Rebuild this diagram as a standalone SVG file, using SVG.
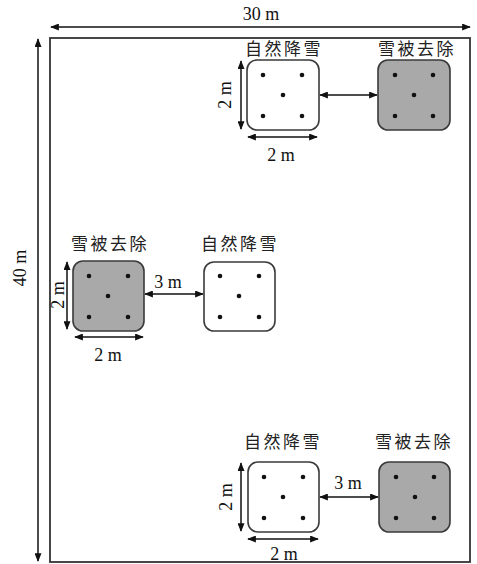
<svg xmlns="http://www.w3.org/2000/svg" width="477" height="564" viewBox="0 0 477 564">
<style>
.frame{fill:none;stroke:#333;stroke-width:1.8}
.box{stroke:#3a3a3a;stroke-width:1.6}
.w{fill:#fff}
.g{fill:#a9a9a9}
.dot{fill:#111}
.dim{stroke:#111;stroke-width:1.5;fill:none;marker-start:url(#a);marker-end:url(#a)}
.num{font-family:"Liberation Serif","Times New Roman",serif;font-size:18px;fill:#111;text-anchor:middle}
.cn{font-family:"Noto Sans CJK SC","Noto Sans CJK JP",sans-serif;font-size:17px;fill:#222;text-anchor:middle;letter-spacing:2.5px}
</style>
<defs>
<marker id="a" viewBox="0 0 10 8" refX="9" refY="4" markerWidth="9" markerHeight="7" markerUnits="userSpaceOnUse" orient="auto-start-reverse">
<path d="M0,0 L10,4 L0,8 z" fill="#111"/>
</marker>
</defs>
<rect id="background" x="0" y="0" width="477" height="564" fill="#fff"/>
<g id="field">
<rect class="frame" x="50" y="38" width="420" height="524"/>
</g>
<g id="connectors">
<line class="dim" x1="51" y1="27" x2="470" y2="27"/>
<line class="dim" x1="38" y1="39" x2="38" y2="561"/>
<line class="dim" x1="320" y1="95" x2="377" y2="95"/>
<line class="dim" x1="241" y1="61" x2="241" y2="129"/>
<line class="dim" x1="248" y1="137" x2="317" y2="137"/>
<line class="dim" x1="145" y1="294" x2="203" y2="294"/>
<line class="dim" x1="67" y1="262" x2="67" y2="329"/>
<line class="dim" x1="75" y1="337" x2="143" y2="337"/>
<line class="dim" x1="320" y1="497" x2="378" y2="497"/>
<line class="dim" x1="241" y1="463" x2="241" y2="531"/>
<line class="dim" x1="248" y1="539" x2="318" y2="539"/>
</g>
<g id="dimension-labels">
<text class="num" x="261" y="20">30 m</text>
<text class="num" transform="translate(26,268) rotate(-90)">40 m</text>
<text class="num" transform="translate(231,95) rotate(-90)">2 m</text>
<text class="num" x="281" y="161">2 m</text>
<text class="num" x="168" y="288">3 m</text>
<text class="num" transform="translate(64,295) rotate(-90)">2 m</text>
<text class="num" x="108" y="361">2 m</text>
<text class="num" x="348" y="489">3 m</text>
<text class="num" transform="translate(232,497) rotate(-90)">2 m</text>
<text class="num" x="284" y="560">2 m</text>
</g>
<g id="top-natural">
<rect class="box w" x="247" y="60" width="72" height="70" rx="10"/>
<circle class="dot" cx="263" cy="75" r="2.3"/><circle class="dot" cx="302" cy="75" r="2.3"/>
<circle class="dot" cx="283" cy="95" r="2.3"/>
<circle class="dot" cx="263" cy="116" r="2.3"/><circle class="dot" cx="302" cy="116" r="2.3"/>
<text class="cn" x="284" y="55">自然降雪</text>
</g>
<g id="top-removed">
<rect class="box g" x="378" y="60" width="72" height="70" rx="10"/>
<circle class="dot" cx="395" cy="75" r="2.3"/><circle class="dot" cx="433" cy="75" r="2.3"/>
<circle class="dot" cx="414" cy="95" r="2.3"/>
<circle class="dot" cx="395" cy="116" r="2.3"/><circle class="dot" cx="433" cy="116" r="2.3"/>
<text class="cn" x="417" y="55">雪被去除</text>
</g>
<g id="mid-removed">
<rect class="box g" x="73" y="261" width="71" height="70" rx="10"/>
<circle class="dot" cx="89" cy="276" r="2.3"/><circle class="dot" cx="128" cy="276" r="2.3"/>
<circle class="dot" cx="108" cy="296" r="2.3"/>
<circle class="dot" cx="89" cy="317" r="2.3"/><circle class="dot" cx="128" cy="317" r="2.3"/>
<text class="cn" x="110" y="250">雪被去除</text>
</g>
<g id="mid-natural">
<rect class="box w" x="204" y="262" width="71" height="69" rx="10"/>
<circle class="dot" cx="220" cy="276" r="2.3"/><circle class="dot" cx="259" cy="276" r="2.3"/>
<circle class="dot" cx="239" cy="296" r="2.3"/>
<circle class="dot" cx="220" cy="317" r="2.3"/><circle class="dot" cx="259" cy="317" r="2.3"/>
<text class="cn" x="240" y="250">自然降雪</text>
</g>
<g id="bottom-natural">
<rect class="box w" x="248" y="462" width="71" height="70" rx="10"/>
<circle class="dot" cx="264" cy="477" r="2.3"/><circle class="dot" cx="303" cy="477" r="2.3"/>
<circle class="dot" cx="283" cy="497" r="2.3"/>
<circle class="dot" cx="264" cy="518" r="2.3"/><circle class="dot" cx="303" cy="518" r="2.3"/>
<text class="cn" x="283" y="448">自然降雪</text>
</g>
<g id="bottom-removed">
<rect class="box g" x="379" y="462" width="71" height="70" rx="10"/>
<circle class="dot" cx="396" cy="477" r="2.3"/><circle class="dot" cx="434" cy="477" r="2.3"/>
<circle class="dot" cx="415" cy="497" r="2.3"/>
<circle class="dot" cx="396" cy="518" r="2.3"/><circle class="dot" cx="434" cy="518" r="2.3"/>
<text class="cn" x="414" y="448">雪被去除</text>
</g>
</svg>
